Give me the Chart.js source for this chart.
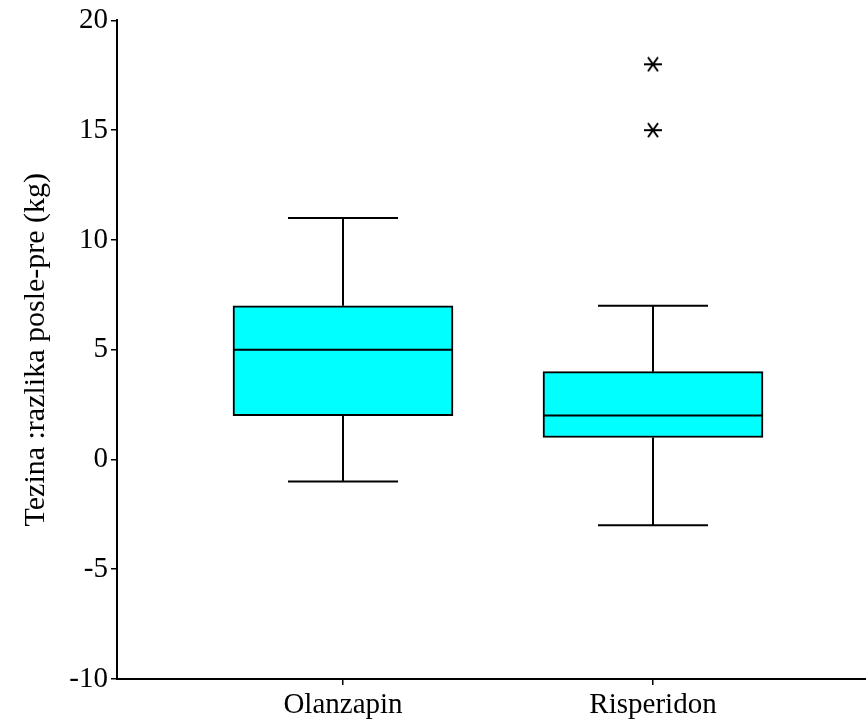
<!DOCTYPE html>
<html>
<head>
<meta charset="utf-8">
<script src="https://cdn.jsdelivr.net/npm/chart.js@4"></script>
<style>
  html, body { margin: 0; padding: 0; background: #fff; }
  #wrap { width: 866px; height: 723px; }
</style>
</head>
<body>
<div id="wrap"><canvas id="c" width="866" height="723"></canvas></div>
<script>
// data
const categories = ['Olanzapin', 'Risperidon'];
const whiskerLow = [-1, -3];
const q1 = [2, 1];
const median = [5, 2];
const q3 = [7, 4];
const whiskerHigh = [11, 7];
const outliers = [[], [15, 18]];
const yTicks = [-10, -5, 0, 5, 10, 15, 20];
const yTitle = 'Tezina :razlika posle-pre (kg)';

const FONT = 'Liberation Serif, Times New Roman, serif';

// asterisk marker for outliers
function makeStar() {
  var cv = document.createElement('canvas');
  cv.width = 20; cv.height = 16;
  var g = cv.getContext('2d');
  g.strokeStyle = '#000';
  g.lineWidth = 2;
  g.beginPath();
  g.moveTo(1, 8); g.lineTo(19, 8);
  g.moveTo(5, 1); g.lineTo(15, 15);
  g.moveTo(15, 1); g.lineTo(5, 15);
  g.stroke();
  return cv;
}

var boxData = categories.map(function (c, i) { return { x: i + 1, y: [q1[i], q3[i]] }; });
var outData = [];
outliers.forEach(function (arr, i) { arr.forEach(function (v) { outData.push({ x: i + 1, y: v }); }); });

var whiskerPlugin = {
  id: 'whiskers',
  afterDatasetsDraw: function (chart) {
    var ctx = chart.ctx, xs = chart.scales.x, ys = chart.scales.y;
    var half = 110, capHalf = 55;
    ctx.save();
    ctx.strokeStyle = '#000';
    ctx.lineWidth = 2;
    categories.forEach(function (c, i) {
      var cx = Math.round(xs.getPixelForValue(i + 1));
      var yLo = ys.getPixelForValue(whiskerLow[i]);
      var yHi = ys.getPixelForValue(whiskerHigh[i]);
      var yQ1 = ys.getPixelForValue(q1[i]);
      var yQ3 = ys.getPixelForValue(q3[i]);
      var yMed = ys.getPixelForValue(median[i]);
      ctx.beginPath();
      ctx.moveTo(cx, yQ3); ctx.lineTo(cx, yHi);
      ctx.moveTo(cx - capHalf, yHi); ctx.lineTo(cx + capHalf, yHi);
      ctx.moveTo(cx, yQ1); ctx.lineTo(cx, yLo);
      ctx.moveTo(cx - capHalf, yLo); ctx.lineTo(cx + capHalf, yLo);
      ctx.moveTo(cx - half, yMed); ctx.lineTo(cx + half, yMed);
      ctx.stroke();
    });
    // x axis runs on to the right edge
    var a = chart.chartArea;
    ctx.beginPath();
    ctx.moveTo(a.right, a.bottom);
    ctx.lineTo(chart.width, a.bottom);
    ctx.stroke();
    ctx.restore();
  }
};

new Chart(document.getElementById('c').getContext('2d'), {
  type: 'bar',
  data: {
    datasets: [
      {
        type: 'bar',
        data: boxData,
        backgroundColor: '#00ffff',
        borderColor: '#000',
        borderWidth: 2,
        borderSkipped: false,
        barThickness: 220
      },
      {
        type: 'scatter',
        data: outData,
        pointStyle: makeStar(),
        pointRadius: 9,
        backgroundColor: '#000',
        borderColor: '#000'
      }
    ]
  },
  options: {
    responsive: false,
    animation: false,
    layout: { padding: { top: 19, right: 0, left: 0, bottom: 0 } },
    plugins: { legend: { display: false }, tooltip: { enabled: false } },
    scales: {
      x: {
        type: 'linear',
        offset: false,
        min: 1 - 226 / 310,
        max: 1 - 226 / 310 + 739 / 310,
        afterBuildTicks: function (s) { s.ticks = [{ value: 1 }, { value: 2 }]; },
        afterFit: function (s) { s.height = 44; },
        ticks: {
          callback: function (v) { return categories[v - 1]; },
          color: '#000',
          font: { family: FONT, size: 29 },
          padding: 3,
          maxRotation: 0,
          autoSkip: false
        },
        grid: { offset: false, drawOnChartArea: false, drawTicks: true, tickLength: 6, color: '#000', lineWidth: 1.5 },
        border: { color: '#000', width: 2 }
      },
      y: {
        min: -10,
        max: 20,
        afterBuildTicks: function (s) { s.ticks = yTicks.map(function (v) { return { value: v }; }); },
        afterFit: function (s) { s.width = 117; },
        ticks: {
          color: '#000',
          font: { family: FONT, size: 29 },
          padding: 3
        },
        grid: { drawOnChartArea: false, drawTicks: true, tickLength: 6, color: '#000', lineWidth: 1.5 },
        border: { color: '#000', width: 2 },
        title: {
          display: true,
          text: yTitle,
          color: '#000',
          font: { family: FONT, size: 30 },
          padding: { top: 18, bottom: 0 }
        }
      }
    }
  },
  plugins: [whiskerPlugin]
});
</script>
</body>
</html>
